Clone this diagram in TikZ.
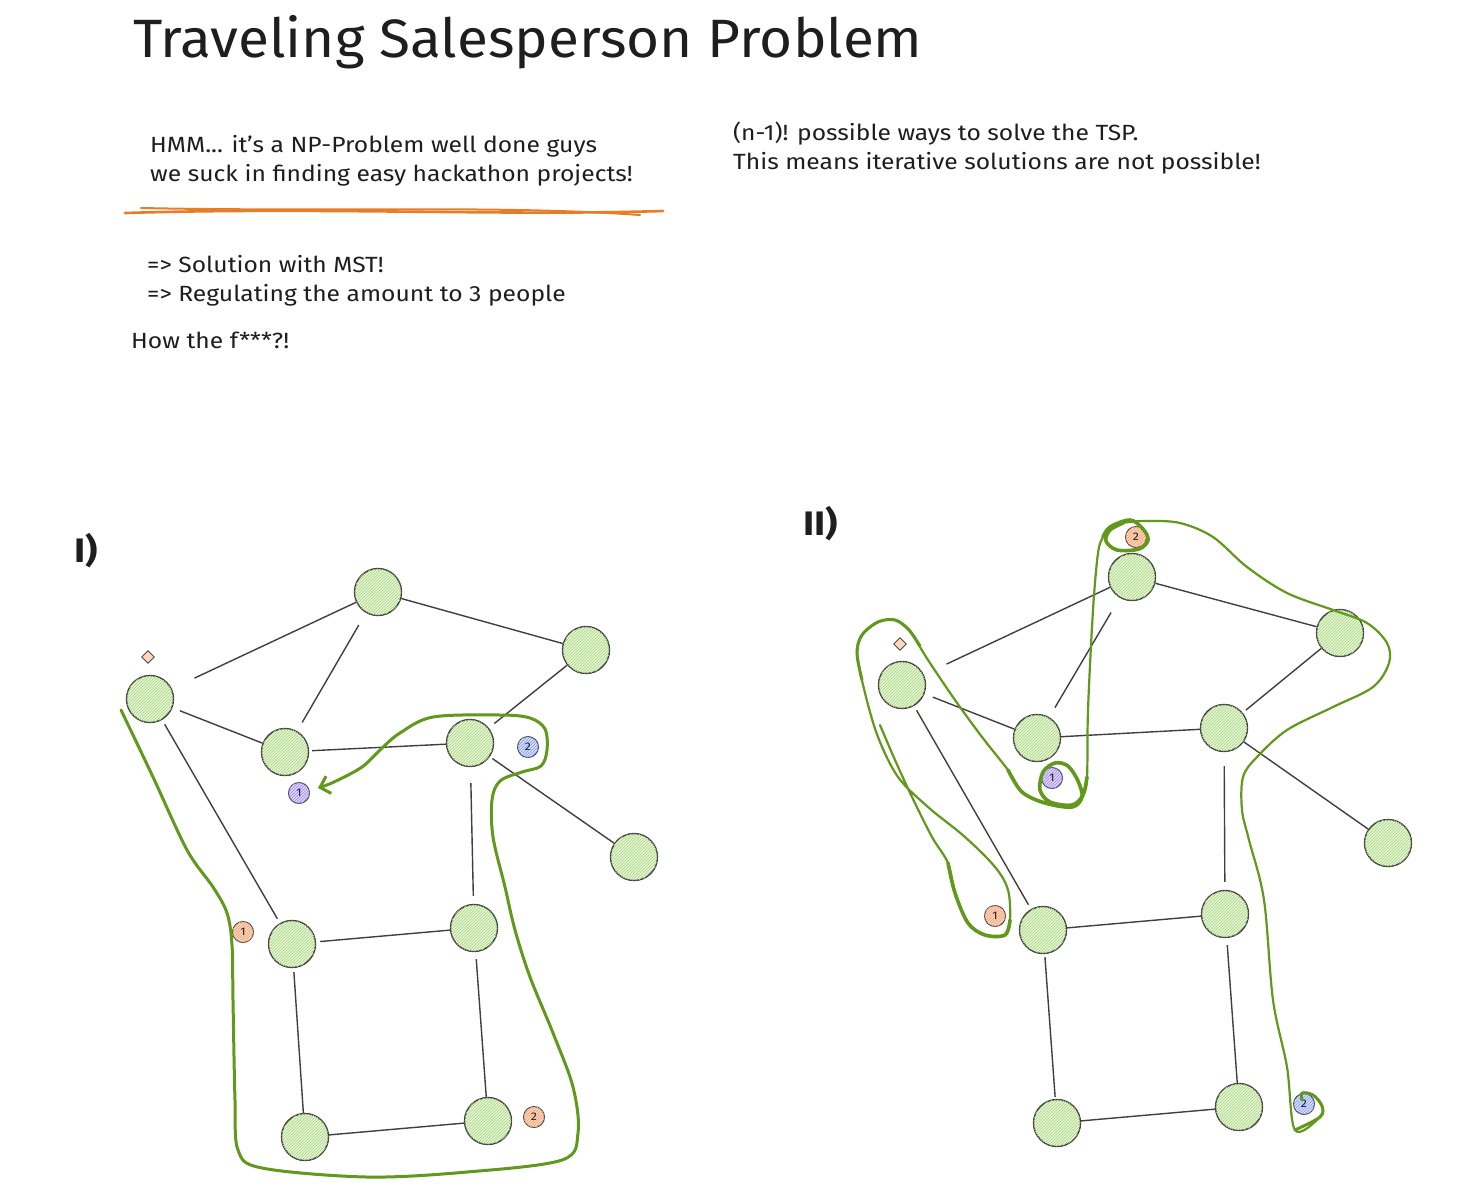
\documentclass[tikz,border=0pt]{standalone}
\usepackage{fontspec}
\setmainfont{Fira Sans}[FakeStretch=1.12]
\newfontfamily\titlefont{Fira Sans}[FakeStretch=1.05]
\usetikzlibrary{patterns,arrows.meta,shapes.geometric}
\definecolor{ink}{HTML}{1E1E1E}
\definecolor{pathgreen}{RGB}{98,152,28}
\definecolor{nodefill}{RGB}{230,244,214}
\definecolor{hatch}{RGB}{168,214,125}
\definecolor{peach}{RGB}{255,214,190}
\definecolor{peachhatch}{RGB}{245,160,110}
\definecolor{lilac}{RGB}{222,212,255}
\definecolor{lilachatch}{RGB}{160,135,240}
\definecolor{skyb}{RGB}{212,222,255}
\definecolor{skybhatch}{RGB}{130,155,240}
\definecolor{underline}{RGB}{232,125,40}
\begin{document}
\begin{tikzpicture}[x=1pt,y=-1pt,
  vertex/.style={circle, draw=ink!85, line width=1.4pt, minimum size=47pt, inner sep=0pt,
     fill=nodefill, postaction={pattern=north east lines, pattern color=hatch}},
  badge/.style={circle, draw=ink!80, line width=1pt, minimum size=21pt, inner sep=0pt,
     font=\fontsize{11}{11}\selectfont, text=ink},
  obadge/.style={badge, fill=peach, postaction={pattern=north east lines, pattern color=peachhatch}},
  pbadge/.style={badge, fill=lilac, postaction={pattern=north east lines, pattern color=lilachatch}},
  bbadge/.style={badge, fill=skyb, postaction={pattern=north east lines, pattern color=skybhatch}},
  mark diamond/.style={diamond, draw=ink!80, line width=0.9pt, fill=peach, minimum size=13pt, inner sep=0pt, aspect=1},
  edge/.style={draw=ink!85, line width=1.4pt},
  txt/.style={anchor=base west, inner sep=0pt, text=ink, font=\fontsize{22}{26}\selectfont},
  greenline/.style={draw=pathgreen, line width=2.2pt, line cap=round, line join=round},
  greenthick/.style={draw=pathgreen, line width=3.6pt, line cap=round, line join=round}
]
\useasboundingbox (0,0) rectangle (1458,1186);
\fill[white] (0,0) rectangle (1458,1186);

% ---------- texts ----------
\node[txt, font=\titlefont\fontsize{54}{60}\selectfont] (title) at (133,57) {Traveling Salesperson Problem};
\node[txt] (h1) at (150,152) {HMM... it's a NP-Problem well done guys};
\node[txt] (h2) at (150,181) {we suck in finding easy hackathon projects!};
\node[txt] (n1) at (733,140) {(n-1)! possible ways to solve the TSP.};
\node[txt] (n2) at (733,169) {This means iterative solutions are not possible!};
\node[txt] (s1) at (147,272) {=> Solution with MST!};
\node[txt] (s2) at (147,301) {=> Regulating the amount to 3 people};
\node[txt] (hw) at (131,348) {How the f***?!};
\node[txt, font=\fontsize{34}{40}\selectfont\bfseries] (lab1) at (74,562) {I)};
\node[txt, font=\fontsize{34}{40}\selectfont\bfseries] (lab2) at (803,535) {II)};

% orange underline
\draw[underline, line width=2.6pt, line cap=round] (125,213) .. controls (320,207) and (500,216) .. (663,211);
\draw[underline, line width=2pt, line cap=round] (141,208) .. controls (330,212) and (500,205) .. (640,215);

% ---------- graph I ----------
\node[vertex] (A) at (150,699) {};
\node[vertex] (B) at (378,592) {};
\node[vertex] (C) at (586,650) {};
\node[vertex] (D) at (285,752) {};
\node[vertex] (E) at (470,743) {};
\node[vertex] (F) at (634,857) {};
\node[vertex] (G) at (292,944) {};
\node[vertex] (H) at (474,928) {};
\node[vertex] (J) at (305,1137) {};
\node[vertex] (K) at (488,1121) {};
\node[mark diamond] (dI) at (148,657) {};
\node[pbadge] (bIa) at (299,793) {1};
\node[bbadge] (bIb) at (528,747) {2};
\node[obadge] (bIc) at (243,932) {1};
\node[obadge] (bId) at (534,1117) {2};

\draw[edge, shorten <=25pt] (A) -- (B);
\draw[edge] (B) -- (C);
\draw[edge, shorten <=14pt, shorten >=10pt] (B) -- (D);
\draw[edge, shorten <=8pt] (A) -- (D);
\draw[edge, shorten <=3pt] (D) -- (E);
\draw[edge, shorten >=7pt] (C) -- (E);
\draw[edge, shorten <=3pt] (E) -- (F);
\draw[edge, shorten <=16pt, shorten >=8pt] (E) -- (H);
\draw[edge, shorten <=5pt, shorten >=5pt] (A) -- (G);
\draw[edge, shorten <=4pt] (G) -- (H);
\draw[edge, shorten <=4pt] (G) -- (J);
\draw[edge, shorten <=7pt] (H) -- (K);
\draw[edge] (J) -- (K);

% green route I
\draw[greenthick, line width=3pt, -{Straight Barb[length=9pt,width=18pt]}] plot[smooth, tension=0.55] coordinates {
 (121,710) (153,777) (187,850) (213,887) (227,913) (232,945) (233,1000) (235,1100) (238,1150)
 (262,1168) (367,1177) (467,1172) (562,1160) (578,1133) (573,1087) (553,1033) (530,977)
 (515,930) (505,887) (493,837) (492,800) (500,781) (522,772) (541,766) (547,750) (545,729)
 (530,718) (500,715) (433,717) (400,733) (381,749) (362,767) (334,782) (318,788)};

% ---------- graph II ----------
\node[vertex] (P) at (1132,577) {};
\node[vertex] (Q) at (1340,633) {};
\node[vertex] (R) at (902,685) {};
\node[vertex] (S) at (1037,738) {};
\node[vertex] (T) at (1224,728) {};
\node[vertex] (U) at (1388,843) {};
\node[vertex] (V) at (1043,930) {};
\node[vertex] (W) at (1225,914) {};
\node[vertex] (X) at (1057,1123) {};
\node[vertex] (Y) at (1239,1107) {};
\node[mark diamond] (dII) at (900,644) {};
\node[obadge] (bIIa) at (1136,537) {2};
\node[pbadge] (bIIb) at (1052,778) {1};
\node[obadge] (bIIc) at (995,916) {1};
\node[bbadge] (bIId) at (1304,1104) {2};

\draw[edge, shorten <=25pt] (R) -- (P);
\draw[edge, shorten <=17pt, shorten >=11pt] (P) -- (S);
\draw[edge, shorten <=9pt] (R) -- (S);
\draw[edge] (P) -- (Q);
\draw[edge] (S) -- (T);
\draw[edge, shorten <=4pt] (T) -- (Q);
\draw[edge] (T) -- (U);
\draw[edge, shorten <=5pt, shorten >=5pt] (R) -- (V);
\draw[edge, shorten <=14pt, shorten >=8pt] (T) -- (W);
\draw[edge] (V) -- (W);
\draw[edge, shorten <=3pt, shorten >=2pt] (V) -- (X);
\draw[edge, shorten <=7pt] (W) -- (Y);
\draw[edge] (X) -- (Y);

% green route II
\draw[greenline] plot[smooth, tension=0.55] coordinates {
 (880,725) (895,760) (912,797) (932,837) (948,863) (955,893) (968,923) (985,935) (1005,935)
 (1010,920) (1008,890) (995,867) (965,837) (928,807) (898,777) (878,737) (865,693) (857,653)
 (862,635) (878,622) (895,620) (909,630) (928,660) (955,700) (982,737) (1008,770) (1022,792)
 (1045,803) (1072,807) (1082,797) (1078,781) (1068,766) (1055,763) (1043,772) (1040,790)
 (1050,802) (1072,805) (1083,795) (1087,777) (1088,710) (1093,610) (1098,553) (1103,537)
 (1110,527) (1130,520) (1143,529) (1148,540) (1139,549) (1117,550) (1106,541) (1110,530)
 (1123,523) (1147,521) (1180,523) (1213,537) (1247,567) (1287,593) (1333,610) (1367,623)
 (1387,643) (1389,663) (1373,687) (1333,707) (1287,730) (1257,757) (1243,777) (1242,810)
 (1249,840) (1264,900) (1273,1000) (1287,1067) (1295,1130) (1320,1117) (1322,1106)
 (1313,1095) (1302,1093) (1302,1100)};
% thicker strokes of route II
\draw[greenthick] plot[smooth, tension=0.55] coordinates {
 (948,863) (955,893) (968,923) (985,935) (1005,935) (1010,920)};
\draw[greenthick, line width=3pt] plot[smooth, tension=0.55] coordinates {
 (862,680) (857,653) (862,635) (878,622) (895,620) (909,630) (920,646)};
\draw[greenthick] plot[smooth, tension=0.55] coordinates {
 (1008,770) (1022,792) (1045,803) (1072,807) (1082,797) (1078,781) (1068,766) (1055,763)
 (1043,772) (1040,790) (1050,802) (1072,805) (1083,795) (1087,777)};
\draw[greenthick] plot[smooth, tension=0.55] coordinates {
 (1103,537) (1110,527) (1130,520) (1143,529) (1148,540) (1139,549) (1117,550) (1106,541)
 (1110,530) (1123,523)};
\draw[greenthick, line width=3pt] plot[smooth, tension=0.55] coordinates {
 (1295,1130) (1320,1117) (1322,1106) (1313,1095) (1302,1093) (1302,1100)};
\end{tikzpicture}
\end{document}
